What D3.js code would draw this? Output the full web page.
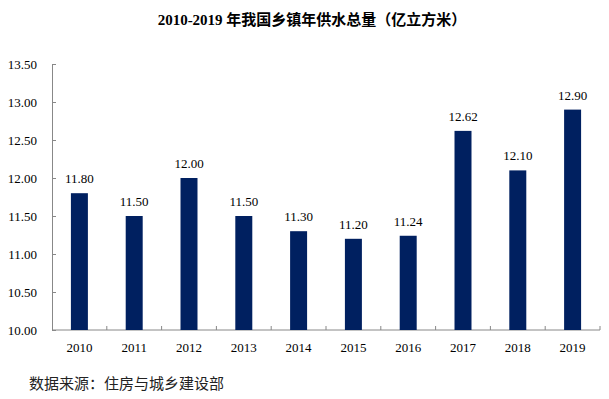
<!DOCTYPE html>
<html>
<head>
<meta charset="utf-8">
<script src="https://cdn.jsdelivr.net/npm/d3@7"></script>
<style>
  body { margin: 0; background: #fff; }
</style>
</head>
<body>
<div id="chart"></div>
<script>
// số liệu
var years = ["2010", "2011", "2012", "2013", "2014", "2015", "2016", "2017", "2018", "2019"];
var supply = [11.80, 11.50, 12.00, 11.50, 11.30, 11.20, 11.24, 12.62, 12.10, 12.90];
var yTicks = [10.00, 10.50, 11.00, 11.50, 12.00, 12.50, 13.00, 13.50];

var serif = "'Liberation Serif', 'Times New Roman', 'DejaVu Serif', serif";
var width = 609, height = 399;
var margin = {top: 64, right: 9, bottom: 69, left: 52};

var svg = d3.select("#chart")
    .append("svg")
    .attr("width", width)
    .attr("height", height);

var x = d3.scaleBand()
    .domain(years)
    .range([margin.left, width - margin.right])
    .paddingInner(0.69)
    .paddingOuter(0.345);

var y = d3.scaleLinear()
    .domain([10, 13.5])
    .range([height - margin.bottom, margin.top]);

// title
svg.append("text")
    .attr("x", 312)
    .attr("y", 25)
    .attr("text-anchor", "middle")
    .style("font-family", "'Liberation Serif', 'Noto Sans CJK SC', serif")
    .style("font-size", "15px")
    .style("font-weight", "bold")
    .style("fill", "#000")
    .text("2010-2019 年我国乡镇年供水总量（亿立方米）");

// y axis
var yAxis = svg.append("g")
    .attr("transform", "translate(" + margin.left + ",0)")
    .call(d3.axisLeft(y).tickValues(yTicks).tickFormat(d3.format(".2f")).tickSizeInner(-4).tickSizeOuter(0).tickPadding(15));
yAxis.select(".domain").attr("stroke", "#888");
yAxis.selectAll(".tick line").attr("stroke", "#888");
yAxis.selectAll(".tick text")
    .style("font-family", serif)
    .style("font-size", "13px")
    .style("fill", "#000");

// x axis: ticks at band boundaries
var xAxis = svg.append("g")
    .attr("transform", "translate(0," + (height - margin.bottom) + ")");
xAxis.append("line")
    .attr("x1", margin.left)
    .attr("x2", width - margin.right)
    .attr("stroke", "#888");
var step = x.step();
xAxis.selectAll(".xt")
    .data(years)
    .enter()
    .append("line")
    .attr("class", "xt")
    .attr("x1", d => x(d) - x.paddingOuter() * step + step)
    .attr("x2", d => x(d) - x.paddingOuter() * step + step)
    .attr("y1", 0)
    .attr("y2", -4)
    .attr("stroke", "#888");
xAxis.selectAll(".xl")
    .data(years)
    .enter()
    .append("text")
    .attr("class", "xl")
    .attr("x", d => x(d) + x.bandwidth() / 2)
    .attr("y", 22)
    .attr("text-anchor", "middle")
    .style("font-family", serif)
    .style("font-size", "13px")
    .style("fill", "#000")
    .text(d => d);

// bars
svg.selectAll(".bar")
    .data(supply)
    .enter()
    .append("rect")
    .attr("class", "bar")
    .attr("x", (d, i) => x(years[i]))
    .attr("y", d => y(d))
    .attr("width", x.bandwidth())
    .attr("height", d => y(10) - y(d))
    .attr("fill", "#002060");

// bar labels
svg.selectAll(".bar-label")
    .data(supply)
    .enter()
    .append("text")
    .attr("class", "bar-label")
    .attr("x", (d, i) => x(years[i]) + x.bandwidth() / 2)
    .attr("y", d => y(d) - 10)
    .attr("text-anchor", "middle")
    .style("font-family", serif)
    .style("font-size", "13px")
    .style("fill", "#000")
    .text(d => d.toFixed(2));

// source
svg.append("text")
    .attr("x", 29)
    .attr("y", 389)
    .style("font-family", "'Noto Sans CJK SC', sans-serif")
    .style("font-size", "15px")
    .style("fill", "#222")
    .text("数据来源：住房与城乡建设部");
</script>
</body>
</html>
